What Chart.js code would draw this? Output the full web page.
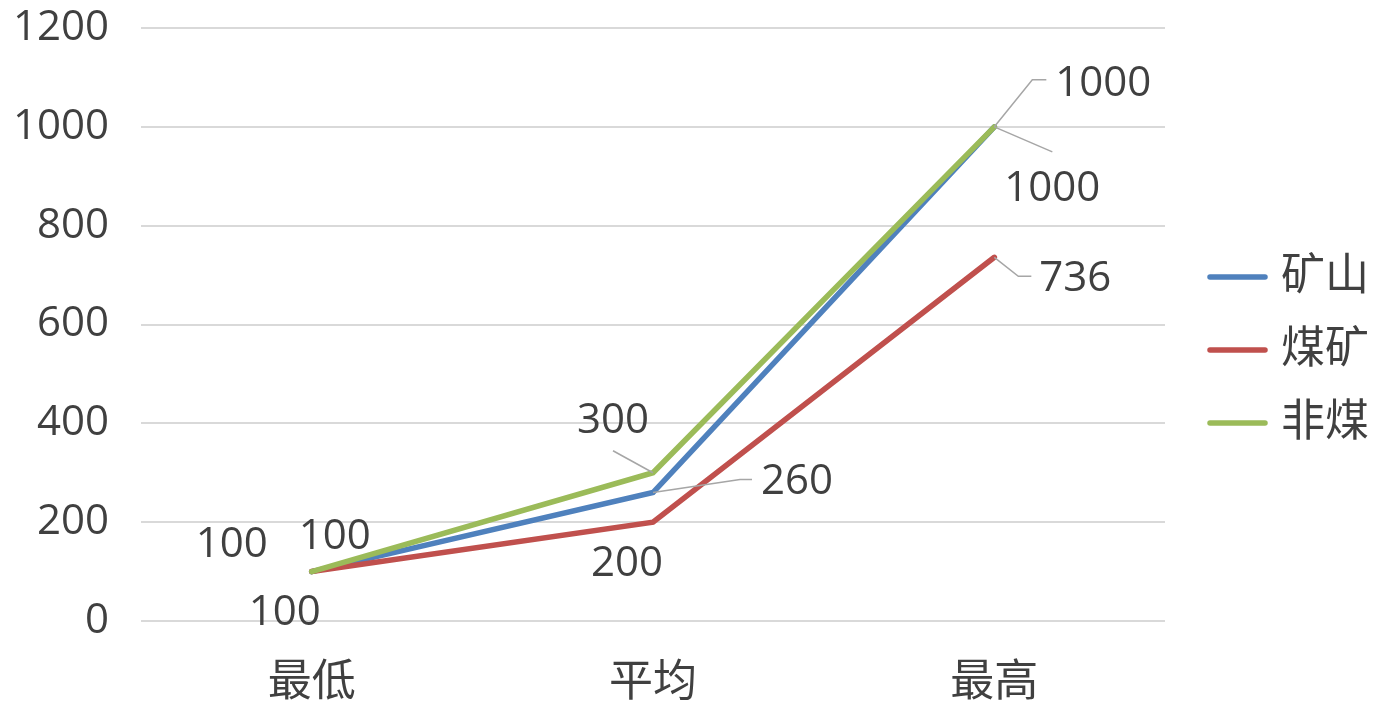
<!DOCTYPE html>
<html>
<head>
<meta charset="utf-8">
<script src="https://cdn.jsdelivr.net/npm/chart.js@4.4.0/dist/chart.umd.min.js"></script>
<style>
html, body { margin: 0; padding: 0; background: #fff; }
</style>
</head>
<body>
<canvas id="myChart" width="1378" height="704"></canvas>
<script>
// dados
var categorias = ['最低', '平均', '最高'];
var nomes = ['矿山', '煤矿', '非煤'];
var kuangshan = [100, 260, 1000];
var meikuang = [100, 200, 736];
var feimei = [100, 300, 1000];
var yTicks = [0, 200, 400, 600, 800, 1000, 1200];

var cores = ['#4F81BD', '#C0504D', '#9BBB59'];
var fonte = "'Open Sans', 'Noto Sans CJK SC', sans-serif";
var corTexto = '#404040';

// posicao dos rotulos em relacao ao ponto (dx, dy) e linha guia
var rotulos = [
  [ {dx: -80, dy: -27}, {dx: 144, dy: -10, guia: [[0,0],[87,-13],[99,-13]]}, {dx: 58, dy: 62, guia: [[0,0],[58,25]]} ],
  [ {dx: -27, dy: 41}, {dx: -26, dy: 42}, {dx: 81, dy: 22, guia: [[0,0],[24,19],[37,19]]} ],
  [ {dx: 23, dy: -35}, {dx: -40, dy: -52, guia: [[0,0],[-40,-22]]}, {dx: 109, dy: -43, guia: [[0,0],[38,-47],[52,-47]]} ]
];

var pluginRotulos = {
  id: 'rotulos',
  afterDatasetsDraw: function(chart) {
    var ctx = chart.ctx;
    ctx.save();
    chart.data.datasets.forEach(function(ds, i) {
      var meta = chart.getDatasetMeta(i);
      meta.data.forEach(function(pt, j) {
        var r = rotulos[i][j];
        if (r.guia) {
          ctx.strokeStyle = '#A6A6A6';
          ctx.lineWidth = 1.5;
          ctx.beginPath();
          r.guia.forEach(function(p, k) {
            if (k == 0) ctx.moveTo(pt.x + p[0], pt.y + p[1]);
            else ctx.lineTo(pt.x + p[0], pt.y + p[1]);
          });
          ctx.stroke();
        }
      });
    });
    chart.data.datasets.forEach(function(ds, i) {
      var meta = chart.getDatasetMeta(i);
      meta.data.forEach(function(pt, j) {
        var r = rotulos[i][j];
        ctx.fillStyle = corTexto;
        ctx.font = '42px ' + fonte;
        ctx.textAlign = 'center';
        ctx.textBaseline = 'middle';
        ctx.fillText(String(ds.data[j]), pt.x + r.dx, pt.y + r.dy);
      });
    });
    ctx.restore();
  },
  afterDraw: function(chart) {
    // legenda na direita
    var ctx = chart.ctx;
    var area = chart.chartArea;
    ctx.save();
    chart.data.datasets.forEach(function(ds, i) {
      var y = chart.height / 2 - 2 + (i - 1) * 73;
      var x = area.right + 45;
      ctx.strokeStyle = ds.borderColor;
      ctx.lineWidth = 5.5;
      ctx.lineCap = 'round';
      ctx.beginPath();
      ctx.moveTo(x, y);
      ctx.lineTo(x + 55, y);
      ctx.stroke();
      ctx.fillStyle = corTexto;
      ctx.font = '44px ' + fonte;
      ctx.textAlign = 'left';
      ctx.textBaseline = 'middle';
      ctx.fillText(ds.label, x + 71, y);
    });
    ctx.restore();
  }
};

var series = [kuangshan, meikuang, feimei];
var datasets = [];
for (var i = 0; i < series.length; i++) {
  datasets.push({
    label: nomes[i],
    data: series[i],
    borderColor: cores[i],
    backgroundColor: cores[i],
    borderWidth: 5.5,
    borderCapStyle: 'round',
    borderJoinStyle: 'miter',
    pointRadius: 0,
    pointHoverRadius: 0,
    tension: 0,
    order: series.length - i
  });
}

var ctx = document.getElementById('myChart').getContext('2d');
var myChart = new Chart(ctx, {
  type: 'line',
  data: {
    labels: categorias,
    datasets: datasets
  },
  plugins: [pluginRotulos],
  options: {
    responsive: false,
    animation: false,
    devicePixelRatio: 1,
    layout: {
      padding: { left: 10, right: 213, top: 28, bottom: 0 }
    },
    plugins: {
      legend: { display: false },
      tooltip: { enabled: false }
    },
    scales: {
      x: {
        offset: true,
        grid: { display: false, drawTicks: false },
        border: { display: false },
        ticks: {
          color: corTexto,
          font: { family: fonte, size: 44 },
          padding: 36
        },
        afterFit: function(s) { s.height = 83; s.paddingLeft = 0; s.paddingRight = 0; }
      },
      y: {
        min: yTicks[0],
        max: yTicks[yTicks.length - 1],
        grid: { color: '#D9D9D9', lineWidth: 2, drawTicks: false },
        border: { display: false },
        ticks: {
          stepSize: yTicks[1] - yTicks[0],
          color: corTexto,
          font: { family: fonte, size: 42 },
          padding: 32,
          callback: function(v) { return String(v); }
        },
        afterFit: function(s) { s.width = 131; s.paddingTop = 0; s.paddingBottom = 0; }
      }
    }
  }
});
</script>
</body>
</html>
